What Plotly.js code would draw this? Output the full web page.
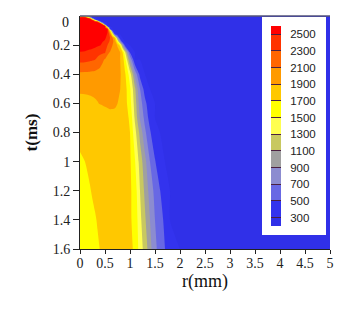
<!DOCTYPE html>
<html>
<head>
<meta charset="utf-8">
<script src="https://cdn.plot.ly/plotly-3.0.1.min.js"></script>
<style>html,body{margin:0;padding:0;background:#fff}</style>
</head>
<body>
<div id="chart" style="width:359px;height:310px"></div>
<script>
var rValues = [0,0.1,0.2,0.25,0.3,0.35,0.4,0.45,0.5,0.55,0.6,0.65,0.7,0.75,0.8,0.85,0.9,1,1.1,1.2,1.3,1.4,1.5,1.6,1.7,1.8,2,5];
var tValues = [0,0.01,0.02,0.03,0.04,0.05,0.06,0.07,0.08,0.09,0.1,0.125,0.15,0.175,0.2,0.25,0.3,0.4,0.5,0.6,0.7,0.8,1,1.2,1.4,1.6];
var ambient = 300;
// Each row lists the temperature from the axis outward; beyond its end the gas stays at the ambient value.
var hotRows = [
 [1400,1350,700,320],
 [2550,2500,1000,320],
 [2600,2580,2510,1200,320],
 [2640,2620,2580,2510,1500,400],
 [2670,2650,2620,2590,2540,2480,700],
 [2700,2680,2650,2635,2600,2560,2510,900,320],
 [2720,2700,2680,2665,2650,2620,2580,2510,650],
 [2740,2720,2700,2685,2670,2650,2620,2570,2510,450],
 [2780,2765,2745,2725,2695,2665,2630,2590,2530,1800,320],
 [2790,2780,2760,2740,2710,2680,2650,2625,2580,2505,500],
 [2800,2790,2770,2745,2720,2690,2660,2640,2620,2520,1700,420],
 [2760,2745,2720,2700,2675,2650,2630,2610,2570,2480,2200,1500,450],
 [2720,2700,2670,2650,2630,2610,2590,2560,2530,2440,2300,2100,1800,900,320],
 [2670,2650,2625,2610,2590,2570,2550,2510,2470,2380,2270,2150,2000,1500,850,350],
 [2620,2600,2580,2565,2550,2530,2510,2460,2400,2300,2200,2100,2010,1880,1650,1000,430],
 [2490,2480,2450,2430,2410,2380,2350,2335,2320,2130,2090,2050,2010,1970,1920,1720,1350,480],
 [2360,2350,2330,2315,2300,2250,2200,2130,2080,2050,2020,1995,1970,1940,1910,1800,1580,900],
 [2060,2055,2050,2045,2040,2030,2020,2010,2000,1990,1980,1965,1950,1935,1920,1850,1730,1400,850,430],
 [1930,1930,1930,1930,1930,1930,1930,1930,1930,1928,1925,1922,1920,1915,1905,1860,1780,1530,1130,700,400],
 [1840,1850,1865,1875,1885,1895,1905,1910,1915,1918,1920,1918,1915,1900,1870,1830,1780,1580,1200,800,560,350],
 [1780,1785,1795,1802,1810,1820,1830,1840,1850,1860,1870,1872,1870,1855,1830,1810,1780,1670,1260,880,640,420],
 [1730,1735,1745,1752,1760,1770,1780,1790,1800,1808,1815,1818,1820,1818,1815,1805,1790,1700,1370,1040,740,530,320],
 [1685,1700,1720,1730,1740,1750,1760,1768,1775,1780,1785,1788,1790,1788,1785,1778,1770,1730,1510,1220,960,700,520,320],
 [1665,1675,1695,1708,1720,1733,1745,1755,1765,1770,1775,1778,1780,1779,1778,1772,1765,1735,1600,1300,1050,820,640,510,320],
 [1650,1655,1670,1681,1692,1706,1720,1733,1745,1755,1765,1769,1772,1770,1768,1760,1752,1725,1640,1360,1130,900,700,570,460],
 [1640,1645,1655,1665,1675,1688,1702,1716,1730,1740,1750,1755,1760,1758,1755,1750,1745,1725,1680,1400,1220,970,745,620,500,380]
];
var temperature = hotRows.map(function(row){
  return rValues.map(function(_,i){return i<row.length?row[i]:ambient;});
});
var bandColors = ['#3030e8','#3333ee','#6868e4','#8c8cd0','#a0a0a0','#c8c860','#ffff50','#ffff00','#ffc800','#ff9a00','#ff6600','#ff3300','#ff0000'];
var colorbarTicks = [300,500,700,900,1100,1300,1500,1700,1900,2100,2300,2500];
var rTicks = [0,0.5,1,1.5,2,2.5,3,3.5,4,4.5,5];
var rTickText = ['0','0.5','1','1.5','2','2.5','3','3.5','4','4.5','5'];
var tTicks = [0.2,0.4,0.6,0.8,1,1.2,1.4,1.6];
var tTickText = ['0.2','0.4','0.6','0.8','1','1.2','1.4','1.6'];

var scale = bandColors.map(function(c,i){return [i/(bandColors.length-1),c];});
var serif = '"Liberation Serif", serif';

Plotly.newPlot('chart',[{
  type:'contour', x:rValues, y:tValues, z:temperature,
  autocontour:false,
  contours:{start:300,end:2500,size:200,coloring:'fill',showlines:false},
  line:{width:0,smoothing:0.6},
  colorscale:scale,
  colorbar:{
    x:0.728,xanchor:'left',xpad:9,y:0.996,yanchor:'top',ypad:9,
    lenmode:'pixels',len:218,thicknessmode:'pixels',thickness:10,
    bgcolor:'rgba(0,0,0,0)',outlinewidth:0,borderwidth:0,
    tickmode:'array',tickvals:colorbarTicks,ticktext:colorbarTicks.map(function(v){return '\u00a0\u00a0'+v;}),
    ticks:'inside',ticklen:10,tickcolor:'#4a2040',tickwidth:1,
    tickfont:{family:'"Liberation Sans", sans-serif',size:11.5,color:'#222'}
  }
}],{
  width:359,height:310,
  margin:{l:80,r:29,t:16,b:61,pad:0},
  paper_bgcolor:'#fff',plot_bgcolor:'#3333ee',
  showlegend:false,
  xaxis:{range:[0,5],tickmode:'array',tickvals:rTicks,ticktext:rTickText,ticks:'outside',ticklen:4,tickcolor:'#222',
    ticklabelstandoff:-3,
    showgrid:false,zeroline:false,showline:true,linecolor:'#222',linewidth:1,
    tickfont:{family:serif,size:14,color:'#222'},
    title:{text:'r(mm)\u00a0\u00a0',font:{family:serif,size:18,color:'#111'},standoff:0}},
  yaxis:{range:[1.6,0],tickmode:'array',tickvals:tTicks,ticktext:tTickText,ticks:'outside',ticklen:6,tickcolor:'#222',
    showgrid:false,zeroline:false,showline:true,linecolor:'#222',linewidth:1,
    tickfont:{family:serif,size:14,color:'#222'},
    title:{text:'<b>t(ms)</b>',font:{family:serif,size:17,color:'#111'},standoff:10}},
  shapes:[
    {type:'line',xref:'paper',yref:'paper',x0:0,x1:1,y0:1,y1:1,line:{color:'#55557a',width:1.5}},
    {type:'rect',layer:'above',xref:'paper',yref:'paper',x0:0.728,x1:0.984,y0:0.06,y1:0.9957,fillcolor:'#fff',line:{width:0}}
  ],
  annotations:[{text:'0',xref:'paper',yref:'paper',x:-0.036,y:0.97,xanchor:'right',yanchor:'middle',showarrow:false,
    font:{family:serif,size:14,color:'#111'}}]
},{displayModeBar:false,staticPlot:true});
</script>
</body>
</html>
